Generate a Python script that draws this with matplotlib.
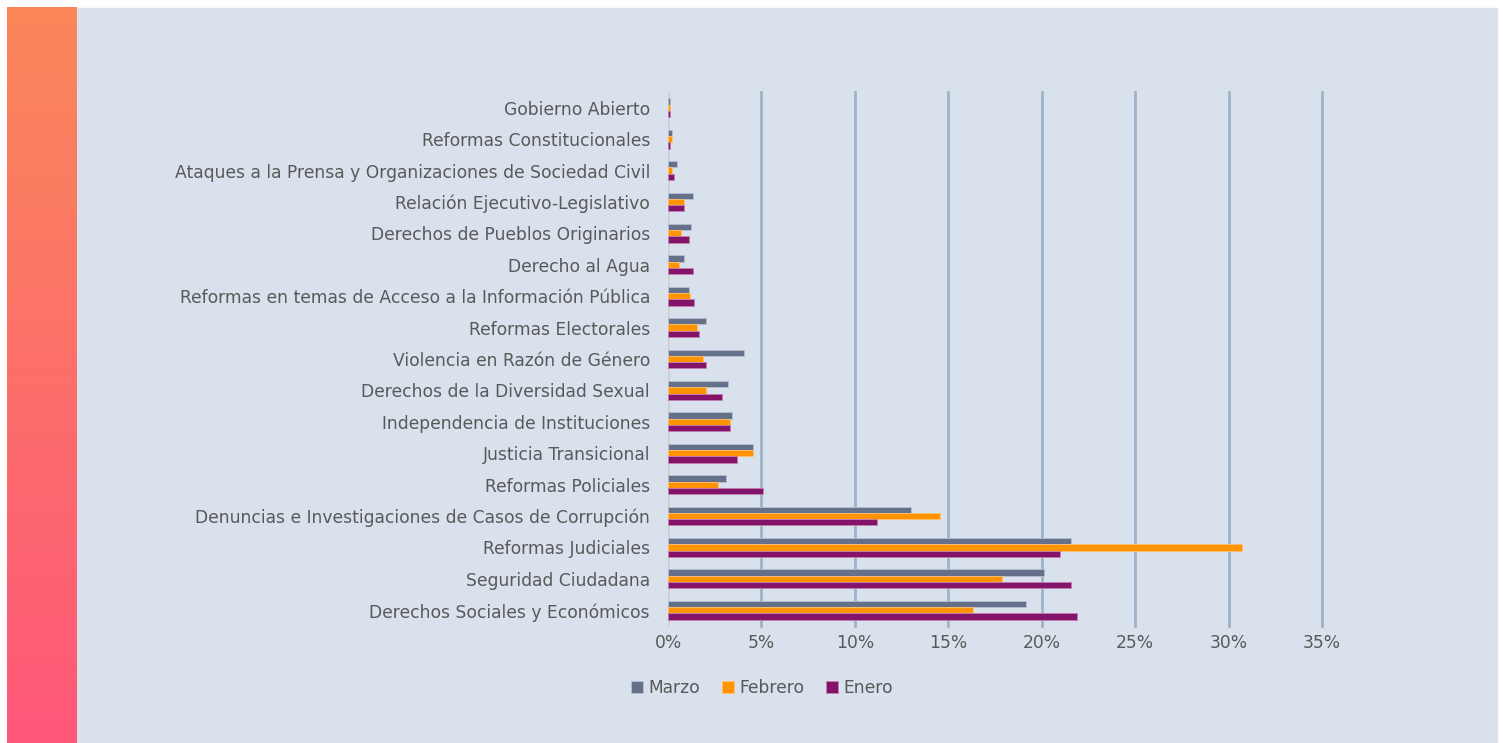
import numpy as np
import matplotlib.pyplot as plt
from matplotlib.patches import Rectangle
from matplotlib.ticker import FuncFormatter

# Datos (de abajo hacia arriba)
temas = ['Derechos Sociales y Económicos', 'Seguridad Ciudadana', 'Reformas Judiciales',
         'Denuncias e Investigaciones de Casos de Corrupción', 'Reformas Policiales',
         'Justicia Transicional', 'Independencia de Instituciones',
         'Derechos de la Diversidad Sexual', 'Violencia en Razón de Género',
         'Reformas Electorales', 'Reformas en temas de Acceso a la Información Pública',
         'Derecho al Agua', 'Derechos de Pueblos Originarios',
         'Relación Ejecutivo-Legislativo',
         'Ataques a la Prensa y Organizaciones de Sociedad Civil',
         'Reformas Constitucionales', 'Gobierno Abierto']
marzo = [19.15, 20.1, 21.55, 13.0, 3.1, 4.55, 3.4, 3.2, 4.05, 2.05, 1.1,
         0.85, 1.25, 1.35, 0.5, 0.2, 0.1]
febrero = [16.3, 17.9, 30.7, 14.55, 2.7, 4.55, 3.3, 2.05, 1.85, 1.55, 1.2,
           0.6, 0.7, 0.85, 0.2, 0.2, 0.1]
enero = [21.9, 21.55, 21.0, 11.2, 5.1, 3.7, 3.3, 2.9, 2.05, 1.65, 1.4,
         1.35, 1.15, 0.85, 0.3, 0.1, 0.1]
ticks = [0, 5, 10, 15, 20, 25, 30, 35]

plt.rcParams['font.family'] = ['DejaVu Sans']
W, H = 1503, 743
fig = plt.figure(figsize=(W / 100, H / 100), dpi=100)
fig.patch.set_facecolor('white')

# Fondo
fig.add_artist(Rectangle((77 / W, 0), (1497 - 77) / W, (H - 8) / H,
                         transform=fig.transFigure, color='#D9E1EC', zorder=0))
# Franja con degradado
gax = fig.add_axes([7 / W, 0, 70 / W, (H - 7) / H])
top = np.array([250, 135, 90]) / 255
bot = np.array([255, 88, 122]) / 255
t = np.linspace(0, 1, 256)[:, None]
grad = (top * (1 - t) + bot * t)[:, None, :]
gax.imshow(grad, aspect='auto', extent=[0, 1, 0, 1])
gax.axis('off')

ax = fig.add_axes([668 / W, (H - 626) / H, (1322 - 668) / W, (626 - 92) / H])
ax.set_facecolor('none')

y = np.arange(len(temas))
h = 0.2
ax.barh(y + h, marzo, height=h, color='#65718A', edgecolor='#B8C0D0', linewidth=0.6, label='Marzo', zorder=3)
ax.barh(y, febrero, height=h, color='#FF9400', edgecolor='#FFC070', linewidth=0.6, label='Febrero', zorder=3)
ax.barh(y - h, enero, height=h, color='#84136A', edgecolor='#C080B0', linewidth=0.6, label='Enero', zorder=3)

ax.set_xlim(0, 35)
ax.set_ylim(-0.5, len(temas) - 0.5)
ax.set_xticks(ticks)
ax.xaxis.set_major_formatter(FuncFormatter(lambda v, p: f'{v:.0f}%'))
ax.set_yticks(y)
ax.set_yticklabels(temas)
ax.tick_params(axis='both', length=0, labelsize=12.3, colors='#595959')
ax.tick_params(axis='y', pad=13)
ax.tick_params(axis='x', pad=6)

# Líneas de cuadrícula
for tk in ticks[1:]:
    ax.axvline(tk, color='#9FB3C8', linewidth=2, zorder=1, clip_on=False)
for s in ax.spines.values():
    s.set_visible(False)
ax.axvline(0, color='#D0D0D0', linewidth=2, zorder=2)

leg = fig.legend(loc='center', bbox_to_anchor=(762 / W, (H - 688) / H), ncol=3,
                 frameon=False, fontsize=12.3, handlelength=0.7, handleheight=0.7,
                 handletextpad=0.3, columnspacing=1.3)
for txt in leg.get_texts():
    txt.set_color('#595959')

fig.savefig('out.png', dpi=100)
